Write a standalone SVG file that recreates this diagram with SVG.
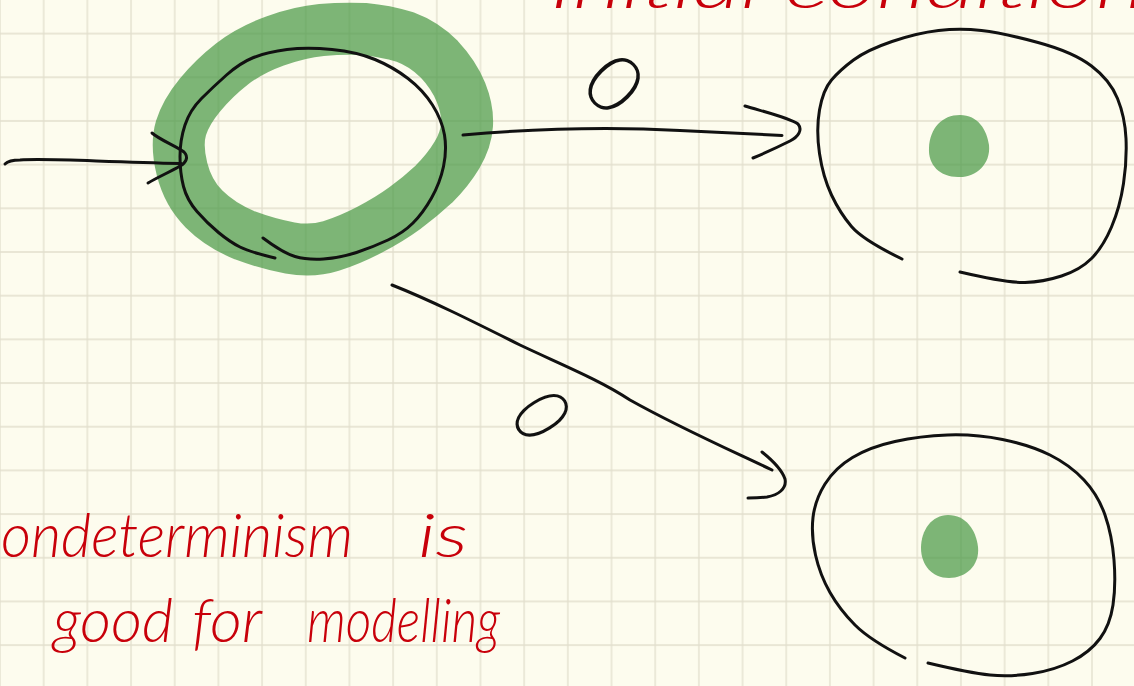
<svg xmlns="http://www.w3.org/2000/svg" width="1134" height="686" viewBox="0 0 1134 686">
  <defs>
    <!-- squared notebook paper -->
    <pattern id="grid" patternUnits="userSpaceOnUse" x="21.84" y="11.76" width="43.68" height="43.68">
      <path d="M21.84 0V43.68M0 21.84H43.68" fill="none" stroke="#e2dfcd" stroke-width="1.3"/>
    </pattern>
    <style>
      .ink { fill: none; stroke: #111; stroke-width: 3; stroke-linecap: round; stroke-linejoin: round; }
      .marker { fill: none; stroke: rgba(70,151,67,0.7); stroke-width: 52; stroke-linejoin: round; }
      .token { fill: rgba(70,151,67,0.7); }
      .note { fill: #c8000a; font-family: Lato, "Liberation Sans", sans-serif; font-style: italic; font-weight: 300; font-size: 62px; }
      .lbl { fill: #111; font-family: Lato, "Liberation Sans", sans-serif; font-weight: 300; font-size: 80px; text-anchor: middle; dominant-baseline: central; }
    </style>
  </defs>

  <rect width="1134" height="686" fill="#fdfcee"/>
  <rect width="1134" height="686" fill="url(#grid)"/>

  <!-- initial state, highlighted -->
  <g id="state-initial">
    <path class="marker" d="M331,246 Q312,252 290,248 Q268,244 244,235 Q220,225 204,209 Q188,193 182,169 Q176,145 181,128 Q186,112 200,95 Q214,78 232,64 Q250,50 275,41 Q300,32 321.5,30 Q343,28 364,29 Q385,31 405,37 Q424,44 439,59 Q454,75 461,92.5 Q468,110 467,125 Q466,140 457,155 Q448,170 434,184 Q420,197 405,208 Q390,219 370,229.5 Q350,240 331,246 Z"/>
    <path class="ink" d="M263,238 Q283,253 295,256.5 Q307,260 323.5,259 Q340,258 356.5,252.5 Q373,247 388,240 Q403,233 413,223 Q423,213 431.5,198 Q440,183 443.5,166.5 Q447,150 444.5,135 Q442,120 432.5,105 Q423,90 408,78.5 Q393,67 375,59.5 Q357,52 332,49.5 Q307,47 287,49.5 Q267,52 253.5,57.5 Q240,63 226.5,75 Q213,87 201.5,98.5 Q190,110 185,125 Q180,140 180,156.5 Q180,173 183.5,186.5 Q187,200 197,211.5 Q207,223 218.5,232.5 Q230,242 240,247 Q250,252 275,258"/>
  </g>

  <!-- upper successor state -->
  <g id="state-upper">
    <path class="ink" d="M902,259 Q863,240 851.5,226.5 Q840,213 831.5,195 Q823,177 819.5,153.5 Q816,130 819.5,110 Q823,90 831.5,80 Q840,70 853.5,60 Q867,50 892,41.5 Q917,33 938.5,30.5 Q960,28 981.5,30.5 Q1003,33 1038,42.5 Q1073,52 1091.5,66 Q1110,80 1117.5,98.5 Q1125,117 1126,138.5 Q1127,160 1123.5,183.5 Q1120,207 1111.5,227 Q1103,247 1091.5,258.5 Q1080,270 1061.5,276 Q1043,282 1025,282.5 Q1007,283 960,272"/>
    <path class="token" d="M960,115 C978,115 987,130 989,145 C991,165 975,178 958,177 C940,177 928,165 929,148 C930,128 942,115 960,115 Z"/>
  </g>

  <!-- lower successor state -->
  <g id="state-lower">
    <path class="ink" d="M905,658 Q870,640 855,625 Q840,610 830,592.5 Q820,575 815.5,555 Q811,535 813,517.5 Q815,500 825,484 Q835,468 852.5,457.5 Q870,447 895,441.5 Q920,436 947.5,435 Q975,434 1002.5,439.5 Q1030,445 1050,455 Q1070,465 1084,480 Q1098,495 1105,515 Q1112,535 1114,560 Q1116,585 1113,605 Q1110,625 1100,638.5 Q1090,652 1072.5,661 Q1055,670 1032.5,673.5 Q1010,677 990,675 Q970,673 928,663"/>
    <path class="token" d="M948,515 C966,515 976,530 978,547 C980,566 965,578 949,578 C932,578 921,565 921,548 C921,530 932,515 948,515 Z"/>
  </g>

  <!-- transitions -->
  <g id="edges">
    <g id="edge-start">
      <path class="ink" d="M5,164 Q9,160 20,160 C50,158 100,162 181,163.5"/>
      <path class="ink" d="M152,133 C160,140 176,146 184,152 C189,157 186,163 180,166 C170,172 158,177 148,183"/>
    </g>
    <g id="edge-upper">
      <path class="ink" d="M463,135 C520,130 600,126 680,130.5 C720,132.5 760,134.5 782,135.5"/>
      <path class="ink" d="M745,106 C765,112 790,118 798,124 C803,130 798,137 790,141 C778,147 765,153 753,158"/>
      <text class="lbl" transform="translate(616,82) rotate(45)">0</text>
    </g>
    <g id="edge-lower">
      <path class="ink" d="M392,285 C430,300 470,320 520,345 C560,364 600,380 630,400 C680,428 730,450 772,470"/>
      <path class="ink" d="M762,452 C772,460 782,470 785,479 C787,489 778,495 767,497 C760,498 753,498 748,498"/>
      <text class="lbl" transform="translate(544,414) rotate(58) scale(0.9,1.1)" style="font-size:72px">0</text>
    </g>
  </g>

  <!-- handwritten notes -->
  <g id="notes">
    <text class="note" y="8"><tspan x="550" textLength="210" lengthAdjust="spacingAndGlyphs">Initial</tspan><tspan x="785" textLength="360" lengthAdjust="spacingAndGlyphs">condition</tspan></text>
    <text class="note" y="557"><tspan x="1" textLength="352" lengthAdjust="spacingAndGlyphs">ondeterminism</tspan><tspan x="418" textLength="50" lengthAdjust="spacingAndGlyphs">is</tspan></text>
    <text class="note" y="642"><tspan x="53" textLength="120" lengthAdjust="spacingAndGlyphs">good</tspan><tspan x="192" textLength="70" lengthAdjust="spacingAndGlyphs">for</tspan><tspan x="307" textLength="193" lengthAdjust="spacingAndGlyphs">modelling</tspan></text>
  </g>
</svg>
